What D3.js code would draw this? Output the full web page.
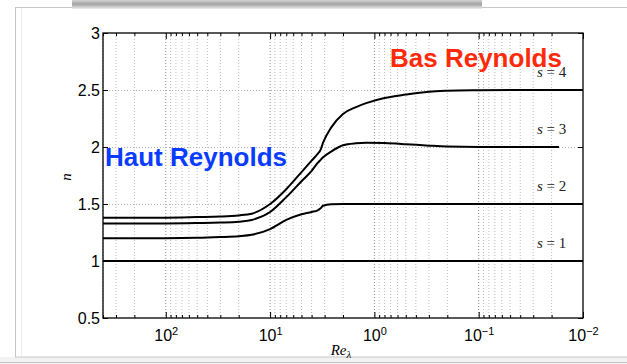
<!DOCTYPE html>
<html>
<head>
<meta charset="utf-8">
<script src="https://cdn.jsdelivr.net/npm/d3@7/dist/d3.min.js"></script>
<style>
  body { margin: 0; background: #fff; }
  svg { display: block; }
</style>
</head>
<body>
<div id="chart"></div>
<script>
// Re_lambda sample points (x axis is log and runs from high to low Re)
var reLambda = [400, 100, 50, 30, 20, 15, 10, 7, 5, 4, 3.5, 3.3, 3.1, 2.6, 2, 1.5, 1.2, 0.8, 0.5, 0.3, 0.2, 0.1, 0.05, 0.017, 0.01];

// exponent n for each order s
var nS1 = [1, 1, 1, 1, 1, 1, 1, 1, 1, 1, 1, 1, 1, 1, 1, 1, 1, 1, 1, 1, 1, 1, 1, 1, 1];
var nS2 = [1.2, 1.2, 1.203, 1.21, 1.218, 1.23, 1.28, 1.36, 1.41, 1.43, 1.445, 1.46, 1.485, 1.497, 1.5, 1.5, 1.5, 1.5, 1.5, 1.5, 1.5, 1.5, 1.5, 1.5, 1.5];
var nS3 = [1.33, 1.33, 1.333, 1.337, 1.345, 1.36, 1.43, 1.56, 1.7, 1.79, 1.86, 1.885, 1.91, 1.96, 2.015, 2.033, 2.038, 2.035, 2.025, 2.012, 2.004, 2.0, 2.0, 2.0, null];
var nS4 = [1.38, 1.38, 1.385, 1.39, 1.4, 1.415, 1.5, 1.63, 1.78, 1.88, 1.94, 1.97, 2.04, 2.17, 2.29, 2.35, 2.385, 2.43, 2.46, 2.485, 2.493, 2.498, 2.5, 2.5, 2.5];

var seriesLabels = ["1", "2", "3", "4"];
var seriesValues = [nS1, nS2, nS3, nS4];

// axis ticks
var xDomain = [400, 0.01];
var xMajorTicks = [100, 10, 1, 0.1, 0.01];
var xTickExponents = ["2", "1", "0", "\u22121", "\u22122"];
var yTicks = [3, 2.5, 2, 1.5, 1, 0.5];
var yTickLabels = ["3", "2.5", "2", "1.5", "1", "0.5"];

var svg = d3.select("#chart")
  .append("svg")
    .attr("width", 627)
    .attr("height", 364);

// screenshot frame around the figure
var grad = svg.append("defs").append("linearGradient")
    .attr("id", "shadow")
    .attr("x1", 0).attr("y1", 0).attr("x2", 0).attr("y2", 1);
grad.append("stop").attr("offset", "0%").attr("stop-color", "#d4d4d4");
grad.append("stop").attr("offset", "45%").attr("stop-color", "#a2a2a2");
grad.append("stop").attr("offset", "100%").attr("stop-color", "#ececec");

svg.append("rect")
    .attr("x", 0).attr("y", 357).attr("width", 627).attr("height", 7)
    .attr("fill", "#f2f2f2");
svg.append("line")
    .attr("x1", 0).attr("x2", 627).attr("y1", 362.5).attr("y2", 362.5)
    .attr("stroke", "#c4c4c4");
svg.append("rect")
    .attr("x", 15.5).attr("y", 7.5).attr("width", 620).attr("height", 349.5)
    .attr("fill", "#fff")
    .attr("stroke", "#c6c6c6");
svg.append("line")
    .attr("x1", 21.5).attr("x2", 21.5).attr("y1", 8).attr("y2", 356)
    .attr("stroke", "#ededed");
svg.append("rect")
    .attr("x", 72).attr("y", 0).attr("width", 410).attr("height", 9)
    .attr("fill", "url(#shadow)");

// plot area
var margin = {top: 33, left: 103},
    width = 583 - 103,
    height = 318 - 33;

var g = svg.append("g")
    .attr("transform", "translate(" + margin.left + "," + margin.top + ")");

var x = d3.scaleLog()
    .domain(xDomain)
    .range([0, width]);

var y = d3.scaleLinear()
    .domain([0.5, 3])
    .range([height, 0]);

// minor log ticks (2..9 x 10^k) inside the domain
var xMinorTicks = [];
[-2, -1, 0, 1, 2].forEach(function(k) {
  for (var m = 2; m <= 9; m++) {
    var v = m * Math.pow(10, k);
    if (v <= xDomain[0] && v >= xDomain[1]) xMinorTicks.push(v);
  }
});

// grid
g.append("g")
  .selectAll("line")
  .data(xMinorTicks)
  .enter()
  .append("line")
    .attr("x1", function(d) { return x(d); })
    .attr("x2", function(d) { return x(d); })
    .attr("y1", 0)
    .attr("y2", height)
    .attr("stroke", "#bcbcbc")
    .attr("stroke-width", 1)
    .attr("stroke-dasharray", "1,2");

g.append("g")
  .selectAll("line")
  .data(xMajorTicks.slice(0, 4))
  .enter()
  .append("line")
    .attr("x1", function(d) { return x(d); })
    .attr("x2", function(d) { return x(d); })
    .attr("y1", 0)
    .attr("y2", height)
    .attr("stroke", "#8a8a8a")
    .attr("stroke-width", 1)
    .attr("stroke-dasharray", "1,2");

g.append("g")
  .selectAll("line")
  .data(yTicks.slice(1, 5))
  .enter()
  .append("line")
    .attr("x1", 0)
    .attr("x2", width)
    .attr("y1", function(d) { return Math.round(y(d)) + 0.5; })
    .attr("y2", function(d) { return Math.round(y(d)) + 0.5; })
    .attr("stroke", "#b4b4b4")
    .attr("stroke-width", 1)
    .attr("stroke-dasharray", "1,2");

// curves
var line = d3.line()
    .defined(function(d) { return d[1] != null; })
    .x(function(d) { return x(d[0]); })
    .y(function(d) { return y(d[1]); })
    .curve(d3.curveMonotoneX);

g.append("g")
  .selectAll("path")
  .data(seriesValues)
  .enter()
  .append("path")
    .attr("d", function(vals) { return line(reLambda.map(function(r, i) { return [r, vals[i]]; })); })
    .attr("fill", "none")
    .attr("stroke", "#000")
    .attr("stroke-width", 2);

// axes with inward ticks
function noDomain(sel) { sel.select(".domain").remove(); }

var xAxisBottom = g.append("g")
    .attr("transform", "translate(0," + height + ")")
    .call(d3.axisBottom(x).tickValues(xMajorTicks).tickSize(-6).tickFormat(function() { return ""; }))
    .call(noDomain);
g.append("g")
    .attr("transform", "translate(0," + height + ")")
    .call(d3.axisBottom(x).tickValues(xMinorTicks).tickSize(-3).tickFormat(function() { return ""; }))
    .call(noDomain);
g.append("g")
    .call(d3.axisTop(x).tickValues(xMajorTicks).tickSize(-6).tickFormat(function() { return ""; }))
    .call(noDomain);
g.append("g")
    .call(d3.axisTop(x).tickValues(xMinorTicks).tickSize(-3).tickFormat(function() { return ""; }))
    .call(noDomain);

var yAxisLeft = g.append("g")
    .call(d3.axisLeft(y).tickValues(yTicks).tickSize(-5).tickPadding(3)
      .tickFormat(function(d, i) { return yTickLabels[i]; }))
    .call(noDomain);
g.append("g")
    .attr("transform", "translate(" + width + ",0)")
    .call(d3.axisRight(y).tickValues(yTicks).tickSize(-5).tickFormat(function() { return ""; }))
    .call(noDomain);

g.selectAll(".tick line").attr("stroke", "#000");

yAxisLeft.selectAll(".tick text")
    .attr("font-family", "Liberation Sans, Arial, sans-serif")
    .attr("font-size", 16)
    .attr("fill", "#000")
    .attr("dy", "0.36em");

// 10^k labels
xAxisBottom.selectAll(".tick")
  .each(function(d, i) {
    var t = d3.select(this).select("text")
        .text(null)
        .attr("y", 23)
        .attr("dy", null)
        .attr("font-family", "Liberation Sans, Arial, sans-serif")
        .attr("font-size", 16)
        .attr("fill", "#000");
    t.append("tspan").text("10");
    t.append("tspan")
        .attr("dy", "-0.55em")
        .attr("font-size", 11)
        .text(xTickExponents[i]);
  });

// box
g.append("rect")
    .attr("x", 0)
    .attr("y", 0)
    .attr("width", width)
    .attr("height", height)
    .attr("fill", "none")
    .attr("stroke", "#000")
    .attr("stroke-width", 1.3);

// s = ... labels
var sLabel = g.append("g")
  .selectAll("text")
  .data(seriesLabels)
  .enter()
  .append("text")
    .attr("x", 537 - margin.left)
    .attr("y", function(d, i) { return y(+d / 2 + 0.5) - 13; })
    .attr("font-family", "Liberation Serif, DejaVu Serif, serif")
    .attr("font-size", 15)
    .attr("fill", "#222");
sLabel.append("tspan").attr("font-style", "italic").text("s");
sLabel.append("tspan").attr("xml:space", "preserve").text(function(d) { return " = " + d; });

// axis labels
svg.append("text")
    .attr("transform", "translate(71,177) rotate(-90)")
    .attr("text-anchor", "middle")
    .attr("font-family", "Liberation Serif, DejaVu Serif, serif")
    .attr("font-style", "italic")
    .attr("font-size", 15)
    .text("n");

var xLabel = svg.append("text")
    .attr("x", 341)
    .attr("y", 355)
    .attr("text-anchor", "middle")
    .attr("font-family", "Liberation Serif, DejaVu Serif, serif")
    .attr("font-style", "italic")
    .attr("font-size", 15);
xLabel.append("tspan").text("Re");
xLabel.append("tspan").attr("dy", 3).attr("font-size", 11).text("\u03bb");

// annotations
svg.append("text")
    .attr("x", 390)
    .attr("y", 67)
    .attr("font-family", "Liberation Sans, Arial, sans-serif")
    .attr("font-weight", "bold")
    .attr("font-size", 26)
    .attr("fill", "#ff2a0a")
    .text("Bas Reynolds");

svg.append("text")
    .attr("x", 105)
    .attr("y", 166)
    .attr("font-family", "Liberation Sans, Arial, sans-serif")
    .attr("font-weight", "bold")
    .attr("font-size", 26)
    .attr("fill", "#0a3cff")
    .text("Haut Reynolds");
</script>
</body>
</html>
